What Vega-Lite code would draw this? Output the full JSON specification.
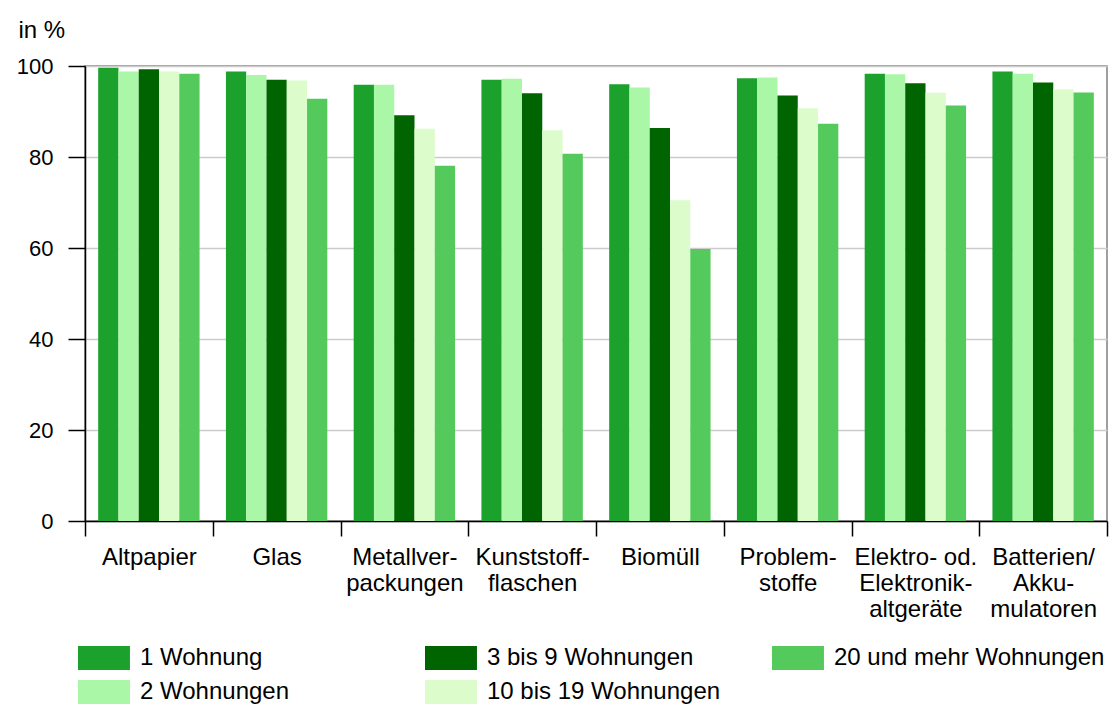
{
  "$schema": "https://vega.github.io/schema/vega-lite/v6.json",
  "width": 1022,
  "height": 455,
  "autosize": {"type": "none"},
  "padding": {"left": 85, "top": 66, "right": 6, "bottom": 185},
  "background": "white",
  "data": {
    "values": [
      {"Kategorie": "Altpapier", "Gruppe": "1 Wohnung", "Anteil": 99.6},
      {"Kategorie": "Altpapier", "Gruppe": "2 Wohnungen", "Anteil": 98.8},
      {"Kategorie": "Altpapier", "Gruppe": "3 bis 9 Wohnungen", "Anteil": 99.3},
      {"Kategorie": "Altpapier", "Gruppe": "10 bis 19 Wohnungen", "Anteil": 98.8},
      {"Kategorie": "Altpapier", "Gruppe": "20 und mehr Wohnungen", "Anteil": 98.3},
      {"Kategorie": "Glas", "Gruppe": "1 Wohnung", "Anteil": 98.8},
      {"Kategorie": "Glas", "Gruppe": "2 Wohnungen", "Anteil": 98.0},
      {"Kategorie": "Glas", "Gruppe": "3 bis 9 Wohnungen", "Anteil": 97.0},
      {"Kategorie": "Glas", "Gruppe": "10 bis 19 Wohnungen", "Anteil": 96.8},
      {"Kategorie": "Glas", "Gruppe": "20 und mehr Wohnungen", "Anteil": 92.8},
      {"Kategorie": "Metallverpackungen", "Gruppe": "1 Wohnung", "Anteil": 95.9},
      {"Kategorie": "Metallverpackungen", "Gruppe": "2 Wohnungen", "Anteil": 95.9},
      {"Kategorie": "Metallverpackungen", "Gruppe": "3 bis 9 Wohnungen", "Anteil": 89.2},
      {"Kategorie": "Metallverpackungen", "Gruppe": "10 bis 19 Wohnungen", "Anteil": 86.2},
      {"Kategorie": "Metallverpackungen", "Gruppe": "20 und mehr Wohnungen", "Anteil": 78.1},
      {"Kategorie": "Kunststoffflaschen", "Gruppe": "1 Wohnung", "Anteil": 97.0},
      {"Kategorie": "Kunststoffflaschen", "Gruppe": "2 Wohnungen", "Anteil": 97.2},
      {"Kategorie": "Kunststoffflaschen", "Gruppe": "3 bis 9 Wohnungen", "Anteil": 94.0},
      {"Kategorie": "Kunststoffflaschen", "Gruppe": "10 bis 19 Wohnungen", "Anteil": 85.9},
      {"Kategorie": "Kunststoffflaschen", "Gruppe": "20 und mehr Wohnungen", "Anteil": 80.7},
      {"Kategorie": "Biomüll", "Gruppe": "1 Wohnung", "Anteil": 96.0},
      {"Kategorie": "Biomüll", "Gruppe": "2 Wohnungen", "Anteil": 95.3},
      {"Kategorie": "Biomüll", "Gruppe": "3 bis 9 Wohnungen", "Anteil": 86.4},
      {"Kategorie": "Biomüll", "Gruppe": "10 bis 19 Wohnungen", "Anteil": 70.5},
      {"Kategorie": "Biomüll", "Gruppe": "20 und mehr Wohnungen", "Anteil": 59.8},
      {"Kategorie": "Problemstoffe", "Gruppe": "1 Wohnung", "Anteil": 97.3},
      {"Kategorie": "Problemstoffe", "Gruppe": "2 Wohnungen", "Anteil": 97.5},
      {"Kategorie": "Problemstoffe", "Gruppe": "3 bis 9 Wohnungen", "Anteil": 93.5},
      {"Kategorie": "Problemstoffe", "Gruppe": "10 bis 19 Wohnungen", "Anteil": 90.7},
      {"Kategorie": "Problemstoffe", "Gruppe": "20 und mehr Wohnungen", "Anteil": 87.3},
      {"Kategorie": "Elektro- od. Elektronikaltgeräte", "Gruppe": "1 Wohnung", "Anteil": 98.3},
      {"Kategorie": "Elektro- od. Elektronikaltgeräte", "Gruppe": "2 Wohnungen", "Anteil": 98.2},
      {"Kategorie": "Elektro- od. Elektronikaltgeräte", "Gruppe": "3 bis 9 Wohnungen", "Anteil": 96.2},
      {"Kategorie": "Elektro- od. Elektronikaltgeräte", "Gruppe": "10 bis 19 Wohnungen", "Anteil": 94.1},
      {"Kategorie": "Elektro- od. Elektronikaltgeräte", "Gruppe": "20 und mehr Wohnungen", "Anteil": 91.3},
      {"Kategorie": "Batterien/Akkumulatoren", "Gruppe": "1 Wohnung", "Anteil": 98.8},
      {"Kategorie": "Batterien/Akkumulatoren", "Gruppe": "2 Wohnungen", "Anteil": 98.3},
      {"Kategorie": "Batterien/Akkumulatoren", "Gruppe": "3 bis 9 Wohnungen", "Anteil": 96.4},
      {"Kategorie": "Batterien/Akkumulatoren", "Gruppe": "10 bis 19 Wohnungen", "Anteil": 94.9},
      {"Kategorie": "Batterien/Akkumulatoren", "Gruppe": "20 und mehr Wohnungen", "Anteil": 94.2}
    ]
  },
  "mark": {"type": "bar"},
  "encoding": {
    "x": {
      "field": "Kategorie",
      "type": "nominal",
      "sort": null,
      "scale": {"paddingInner": 0, "paddingOuter": 0},
      "axis": {
        "title": null,
        "labelAngle": 0,
        "tickBand": "extent",
        "tickSize": 15,
        "tickColor": "black",
        "tickWidth": 1.5,
        "domainColor": "black",
        "domainWidth": 1.5,
        "labelFont": "Liberation Sans",
        "labelFontSize": 24,
        "labelColor": "black",
        "labelPadding": 9,
        "labelLineHeight": 26,
        "labelBaseline": "top",
        "labelLimit": 300,
        "labelExpr": "{'Metallverpackungen':['Metallver-','packungen'],'Kunststoffflaschen':['Kunststoff-','flaschen'],'Problemstoffe':['Problem-','stoffe'],'Elektro- od. Elektronikaltgeräte':['Elektro- od.','Elektronik-','altgeräte'],'Batterien/Akkumulatoren':['Batterien/','Akku-','mulatoren']}[datum.value] || datum.value"
      }
    },
    "xOffset": {
      "field": "Gruppe",
      "type": "nominal",
      "sort": ["1 Wohnung", "2 Wohnungen", "3 bis 9 Wohnungen", "10 bis 19 Wohnungen", "20 und mehr Wohnungen"],
      "scale": {"paddingInner": 0, "paddingOuter": 0.65}
    },
    "y": {
      "field": "Anteil",
      "type": "quantitative",
      "scale": {"domain": [0, 100], "nice": false},
      "axis": {
        "values": [0, 20, 40, 60, 80, 100],
        "title": "in %",
        "titleAngle": 0,
        "titleAlign": "left",
        "titleBaseline": "alphabetic",
        "titleX": -67,
        "titleY": -29,
        "titleFont": "Liberation Sans",
        "titleFontSize": 24,
        "titleFontWeight": "normal",
        "titleColor": "black",
        "labelFont": "Liberation Sans",
        "labelFontSize": 22,
        "labelColor": "black",
        "labelPadding": 15,
        "tickSize": 17,
        "tickColor": "black",
        "tickWidth": 1.5,
        "domainColor": "black",
        "domainWidth": 1.5,
        "grid": true,
        "gridColor": "#cccccc",
        "gridWidth": 1.5
      }
    },
    "color": {
      "field": "Gruppe",
      "type": "nominal",
      "scale": {
        "domain": ["1 Wohnung", "2 Wohnungen", "3 bis 9 Wohnungen", "10 bis 19 Wohnungen", "20 und mehr Wohnungen"],
        "range": ["#1ca12d", "#aaf7a8", "#006400", "#dcfccb", "#54ca5c"]
      },
      "legend": {
        "title": null,
        "orient": "none",
        "legendX": -7,
        "legendY": 580,
        "direction": "horizontal",
        "columns": 3,
        "gridAlign": "all",
        "columnPadding": 14,
        "rowPadding": 10,
        "values": ["1 Wohnung", "3 bis 9 Wohnungen", "20 und mehr Wohnungen", "2 Wohnungen", "10 bis 19 Wohnungen"],
        "symbolType": "M-1,-1H3.33V1H-1Z",
        "symbolSize": 576,
        "symbolStrokeWidth": 0,
        "symbolOpacity": 1,
        "labelOffset": 38,
        "labelFont": "Liberation Sans",
        "labelFontSize": 24,
        "labelColor": "black",
        "labelLimit": 400
      }
    }
  },
  "config": {
    "view": {"stroke": "#808080", "strokeWidth": 1.5},
    "font": "Liberation Sans"
  }
}
